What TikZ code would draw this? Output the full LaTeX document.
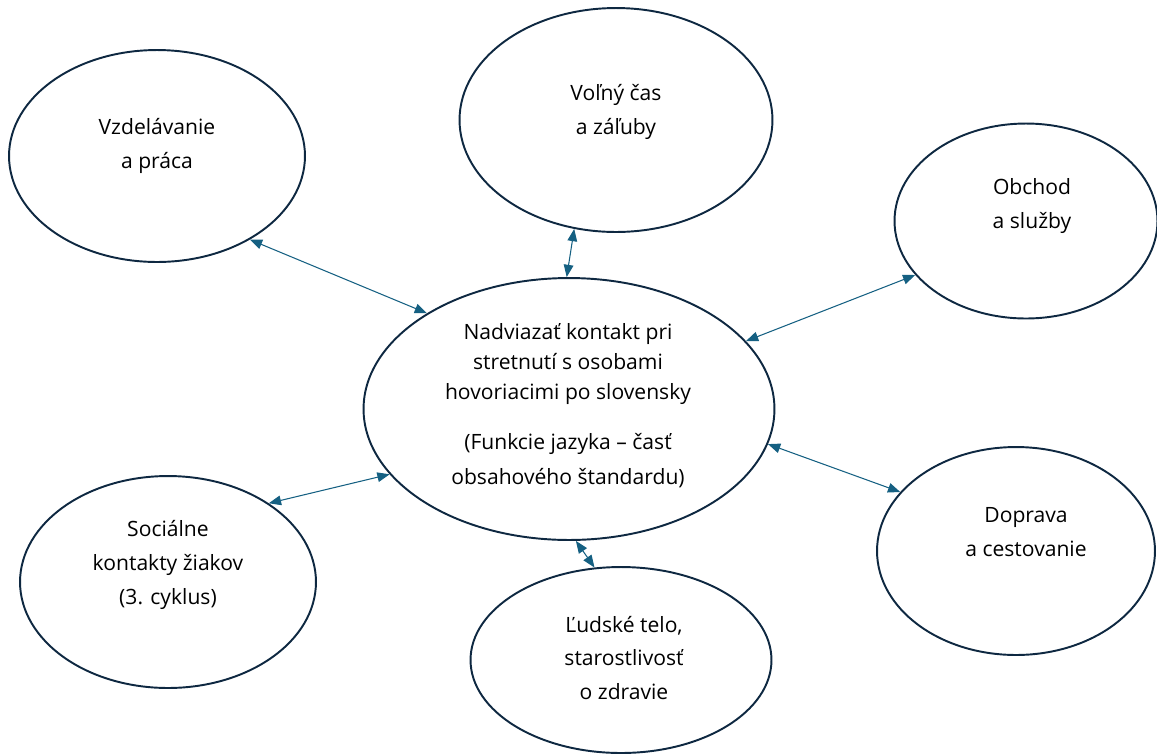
\documentclass[tikz,border=0pt]{standalone}
\usepackage{fontspec}
\setmainfont{Open Sans}
\usetikzlibrary{shapes,arrows.meta}
\definecolor{ringcol}{HTML}{0E2841}
\definecolor{linkcol}{HTML}{156082}

\begin{document}
\begin{tikzpicture}[x=0.02cm, y=-0.02cm]
\tikzstyle{bubble}=[draw=ringcol, line width=1.1pt, shape=ellipse, inner sep=0pt];
\tikzstyle{caption}=[align=center, inner sep=0pt, font=\fontsize{12}{19.3}\selectfont];
\tikzstyle{link}=[<->, >={Triangle[length=7pt,width=5.5pt]}, draw=linkcol, line width=0.6pt];
\useasboundingbox (0,0) rectangle (1157,755);
% rings
\node[bubble, minimum width=8.22cm, minimum height=5.24cm] (core) at (569,409) {};
\node[bubble, minimum width=5.92cm, minimum height=4.24cm] (edu) at (157,156) {};
\node[bubble, minimum width=6.26cm, minimum height=4.48cm] (hobby) at (616,120) {};
\node[bubble, minimum width=5.26cm, minimum height=3.9cm] (shop) at (1026,221) {};
\node[bubble, minimum width=5.56cm, minimum height=4.16cm] (travel) at (1016,551) {};
\node[bubble, minimum width=5.92cm, minimum height=4.24cm] (social) at (168,582) {};
\node[bubble, minimum width=6.02cm, minimum height=3.72cm] (body) at (621,660) {};
% texts
\node[caption] (core-t) at (568,406) {Nadviazať kontakt pri\\[-2.3pt]stretnutí s osobami\\[-2.3pt]hovoriacimi po slovensky\\[9pt](Funkcie jazyka – časť\\[1pt]obsahového štandardu)};
\node[caption] (edu-t) at (157,146) {Vzdelávanie\\a práca};
\node[caption] (hobby-t) at (616,112) {Voľný čas\\a záľuby};
\node[caption] (shop-t) at (1032,206) {Obchod\\a služby};
\node[caption] (travel-t) at (1026,532) {Doprava\\a cestovanie};
\node[caption] (social-t) at (168,565) {Sociálne\\kontakty žiakov\\(3. cyklus)};
\node[caption] (body-t) at (624,658) {Ľudské telo,\\starostlivosť\\o zdravie};
% links
\draw[link] (edu.-42) -- (core.146);
\draw[link] (hobby.-111) -- (core.91);
\draw[link] (core.21) -- (shop.-154);
\draw[link] (core.-10) -- (travel.153);
\draw[link] (social.38) -- (core.-160);
\draw[link] (core.-87) -- (body.106);
\end{tikzpicture}
\end{document}
